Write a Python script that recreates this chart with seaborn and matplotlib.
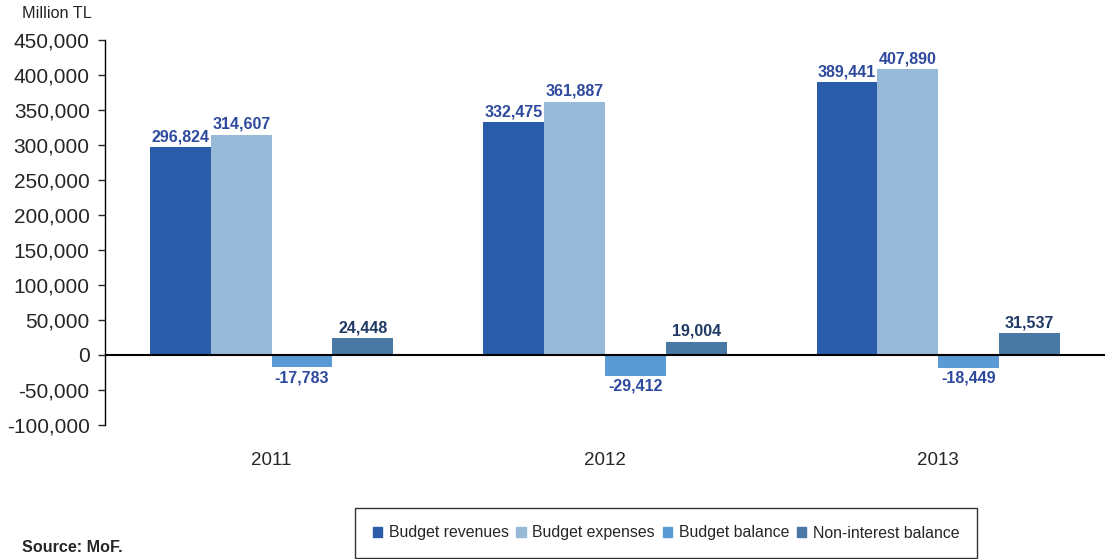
import pandas as pd
import numpy as np
import matplotlib.pyplot as plt
import seaborn as sns

years = ['2011', '2012', '2013']
series = ['Budget revenues', 'Budget expenses', 'Budget balance', 'Non-interest balance']
revenues = [296824, 332475, 389441]
expenses = [314607, 361887, 407890]
balance = [-17783, -29412, -18449]
non_interest = [24448, 19004, 31537]

colors = ['#2A5CAA', '#98BAD9', '#5B9BD5', '#4A78A4']
label_colors = ['#2E4A9E', '#2E4A9E', '#2E4A9E', '#1F3A66']

df = pd.DataFrame({
    'year': years * 4,
    'series': np.repeat(series, 3),
    'value': revenues + expenses + balance + non_interest,
})

sns.set_style('white')
plt.rcParams['font.family'] = ['Liberation Sans', 'DejaVu Sans']

fig = plt.figure(figsize=(11.07, 5.59), dpi=100)
ax = fig.add_axes([105 / 1107, 1 - 425 / 559, 1000 / 1107, 385 / 559])

sns.barplot(data=df, x='year', y='value', hue='series', hue_order=series,
            palette=colors, width=0.73, saturation=1, ax=ax, legend=False,
            linewidth=0)

for i, cont in enumerate(ax.containers):
    labels = [f'{v:,.0f}' for v in cont.datavalues]
    ax.bar_label(cont, labels=labels, padding=2, fontsize=11.5, fontweight='bold',
                 color=label_colors[i])

ax.axhline(0, color='black', lw=1.5, zorder=5)
ax.set_ylim(-100000, 450000)
ax.set_yticks(range(-100000, 450001, 50000))
ax.set_yticklabels([f'{t:,}' for t in range(-100000, 450001, 50000)], fontsize=15)
ax.tick_params(axis='y', left=True, length=5, width=1, direction='out', pad=6)
ax.tick_params(axis='x', bottom=False, labelsize=13.5, pad=16)
ax.set_xlabel('')
ax.set_ylabel('')
for s in ['top', 'right', 'bottom']:
    ax.spines[s].set_visible(False)
ax.spines['left'].set_color('black')
ax.spines['left'].set_linewidth(1)
ax.set_xlim(-0.5, 2.5)

handles = [plt.Rectangle((0, 0), 1, 1, color=c) for c in colors]
leg = fig.legend(handles, series, loc='center', bbox_to_anchor=(666 / 1107, 1 - 533 / 559),
                 ncol=4, frameon=True, fontsize=11.4, handlelength=0.6, handleheight=0.6,
                 handletextpad=0.4, columnspacing=0.5, borderpad=1.1, fancybox=False)
leg.get_frame().set_edgecolor('black')
leg.get_frame().set_linewidth(1)

fig.text(22 / 1107, 1 - 14 / 559, 'Million TL', fontsize=11.7, va='center')
fig.text(22 / 1107, 1 - 548 / 559, 'Source: MoF.', fontsize=11.6, fontweight='bold', va='center')

fig.savefig('out.png', dpi=100)
